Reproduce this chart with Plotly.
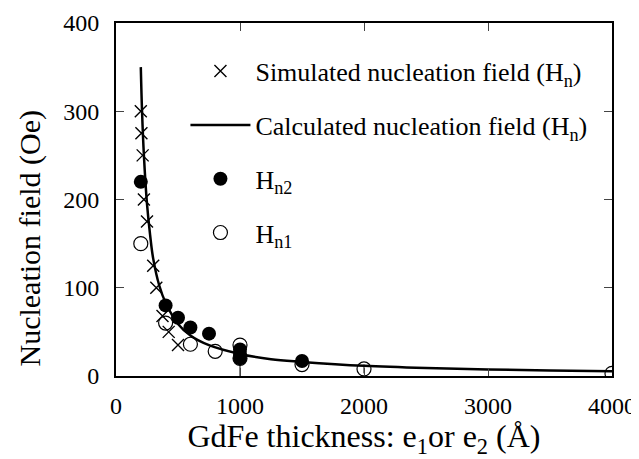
import plotly.graph_objects as go

# Simulated nucleation field (crosses)
sim_x = [200, 205, 215, 225, 250, 300, 325, 375, 425, 500]
sim_y = [300, 275, 250, 200, 175, 125, 100, 68, 50, 35]

# Calculated nucleation field (line)
calc_x = [200, 210, 225, 250, 275, 300, 350, 400, 500, 600, 750, 1000, 1250, 1500, 2000, 2500, 3000, 3500, 4000]
calc_y = [350, 300, 250, 195, 160, 133, 102, 83, 59, 46, 35, 25, 19, 16, 11.5, 9, 7.5, 6.3, 5.5]

# Hn2 (filled circles)
hn2_x = [200, 400, 500, 600, 750, 1000, 1000, 1000, 1500]
hn2_y = [220, 80, 66, 55, 48, 30, 25, 20, 17]

# Hn1 (open circles)
hn1_x = [200, 400, 600, 800, 1000, 1000, 1500, 2000, 4000]
hn1_y = [150, 60, 36, 28, 35, 20, 13, 8, 3]
hn1_err_plus = [0, 0, 0, 0, 0, 0, 0, 5, 0]
hn1_err_minus = [0, 0, 0, 0, 0, 20, 0, 5, 0]

x_ticks = [0, 1000, 2000, 3000, 4000]
y_ticks = [0, 100, 200, 300, 400]

FONT = "Liberation Serif, Times New Roman, serif"

fig = go.Figure()
fig.add_trace(go.Scatter(
    x=sim_x, y=sim_y, mode="markers", name="Simulated nucleation field (H<sub>n</sub>)",
    marker=dict(symbol="x-thin-open", size=12, line=dict(color="black", width=1.4), color="black"),
    legendgroup="a"))
fig.add_trace(go.Scatter(
    x=calc_x, y=calc_y, mode="lines", name="Calculated nucleation field (H<sub>n</sub>)",
    line=dict(color="black", width=2.5, shape="spline"), legendgroup="b"))
fig.add_trace(go.Scatter(
    x=hn2_x, y=hn2_y, mode="markers", name="H<sub>n2</sub>",
    marker=dict(symbol="circle", size=14, color="black"), legendgroup="c"))
fig.add_trace(go.Scatter(
    x=hn1_x, y=hn1_y, mode="markers", name="H<sub>n1</sub>",
    marker=dict(symbol="circle-open", size=14, color="black", line=dict(width=1.2)),
    error_y=dict(type="data", array=hn1_err_plus, arrayminus=hn1_err_minus,
                 color="black", thickness=1, width=0),
    legendgroup="d"))

# the page body adds an 8px offset at top-left; the figure is sized to fill the rest
fig.update_layout(
    width=631, height=451,
    margin=dict(l=108, r=27, t=15, b=83),
    paper_bgcolor="white", plot_bgcolor="white",
    font=dict(family=FONT, color="black", size=24),
    showlegend=True,
    legend=dict(x=0.14, y=0.93, xanchor="left", yanchor="top",
                bgcolor="rgba(0,0,0,0)", font=dict(size=26, family=FONT),
                tracegroupgap=17, itemwidth=60),
    xaxis=dict(range=[0, 4000], tickvals=x_ticks, ticks="inside", ticklen=8,
               showline=True, linecolor="black", linewidth=2, mirror="ticks",
               showgrid=False, zeroline=False, tickfont=dict(size=24),
               automargin=False, ticklabelstandoff=7,
               title=dict(text="GdFe thickness: e<sub>1</sub>or e<sub>2</sub> (Å)",
                          font=dict(size=32), standoff=0)),
    yaxis=dict(range=[0, 400], tickvals=y_ticks, ticks="inside", ticklen=8,
               showline=True, linecolor="black", linewidth=2, mirror="ticks",
               showgrid=False, zeroline=False, tickfont=dict(size=24),
               automargin=False, ticklabelstandoff=10),
    annotations=[dict(text="Nucleation field (Oe)", textangle=-90,
                      xref="paper", yref="paper", x=-0.173, y=0.39,
                      xanchor="center", yanchor="middle", showarrow=False,
                      font=dict(size=30, family=FONT))],
)

fig.write_html("out.html")
